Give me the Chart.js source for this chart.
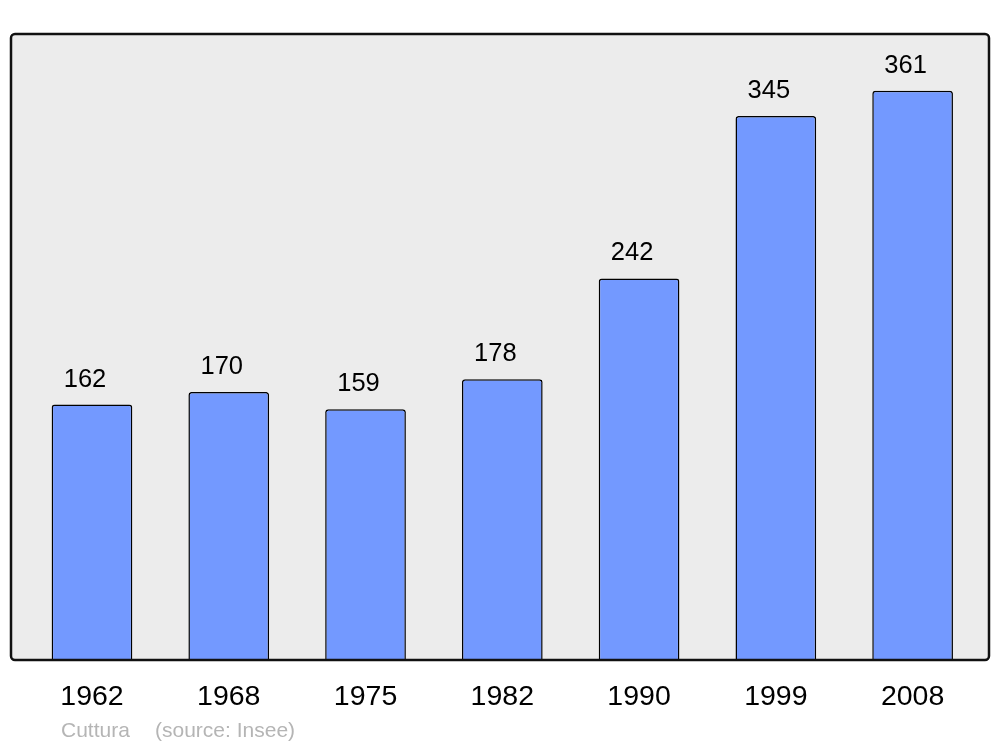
<!DOCTYPE html>
<html>
<head>
<meta charset="utf-8">
<script src="https://cdn.jsdelivr.net/npm/chart.js@4/dist/chart.umd.min.js"></script>
<style>
  html, body { margin: 0; padding: 0; background: #fff; }
  canvas { display: block; }
</style>
</head>
<body>
<canvas id="popChart" width="1000" height="747"></canvas>
<script>
// data
const years = ['1962', '1968', '1975', '1982', '1990', '1999', '2008'];
const population = [162, 170, 159, 178, 242, 345, 361];
const footerName = 'Cuttura';
const footerSource = '(source: Insee)';

const FONT = '"Liberation Sans", Arial, sans-serif';

// grey frame behind the bars, black border on top
const framePlugin = {
    id: 'frame',
    beforeDatasetsDraw(chart) {
        const ctx = chart.ctx;
        ctx.save();
        ctx.beginPath();
        ctx.roundRect(11, 34, 978, 626, 4);
        ctx.fillStyle = '#ececec';
        ctx.fill();
        ctx.restore();
    },
    afterDatasetsDraw(chart) {
        const ctx = chart.ctx;
        ctx.save();
        ctx.beginPath();
        ctx.roundRect(11, 34, 978, 626, 4);
        ctx.lineWidth = 2.5;
        ctx.strokeStyle = '#111';
        ctx.stroke();

        // value labels above each bar
        const meta = chart.getDatasetMeta(0);
        ctx.font = '25.5px ' + FONT;
        ctx.fillStyle = '#000';
        ctx.textAlign = 'center';
        ctx.textBaseline = 'middle';
        meta.data.forEach((bar, i) => {
            ctx.fillText(String(population[i]), bar.x - 7, bar.y - 25);
        });

        // footer
        ctx.font = '21px ' + FONT;
        ctx.fillStyle = '#b5b5b5';
        ctx.textAlign = 'left';
        ctx.fillText(footerName, 61, 731);
        ctx.fillText(footerSource, 155, 731);
        ctx.restore();
    }
};

new Chart(document.getElementById('popChart'), {
    type: 'bar',
    data: {
        labels: years,
        datasets: [{
            data: population,
            backgroundColor: '#7399ff',
            borderColor: '#000',
            borderWidth: 1.5,
            borderSkipped: 'bottom',
            borderRadius: { topLeft: 3, topRight: 3 },
            categoryPercentage: 1,
            barPercentage: 0.59
        }]
    },
    options: {
        responsive: false,
        animation: false,
        layout: { padding: { left: 23.6, right: 19, top: 34, bottom: 0 } },
        plugins: {
            legend: { display: false },
            tooltip: { enabled: false }
        },
        scales: {
            x: {
                grid: { display: false, drawTicks: false },
                border: { display: false },
                ticks: {
                    color: '#000',
                    font: { family: FONT, size: 28.5 },
                    padding: 20,
                    maxRotation: 0
                },
                afterFit(scale) { scale.height = 87; }
            },
            y: {
                display: false,
                min: 0,
                max: 397
            }
        }
    },
    plugins: [framePlugin]
});
</script>
</body>
</html>
